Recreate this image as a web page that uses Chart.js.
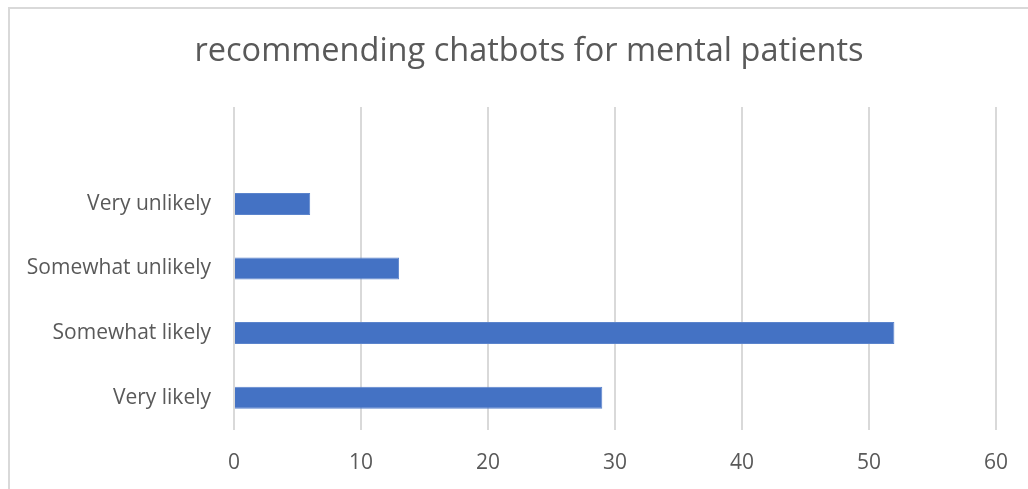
<!DOCTYPE html>
<html>
<head>
<meta charset="utf-8">
<script src="https://cdn.jsdelivr.net/npm/chart.js@4/dist/chart.umd.min.js"></script>
<style>
  html, body { margin: 0; padding: 0; background: #ffffff; }
  #wrap { position: relative; width: 1028px; height: 489px; }
</style>
</head>
<body>
<div id="wrap"><canvas id="chart" width="1028" height="489"></canvas></div>
<script>
// Survey answers, top to bottom (the first row is left blank)
const categories = ["", "Very unlikely", "Somewhat unlikely", "Somewhat likely", "Very likely"];
const responses = [null, 6, 13, 52, 29];
const xTicks = [0, 10, 20, 30, 40, 50, 60];
const titleText = "recommending chatbots for mental patients";

const FONT = "'Open Sans', Lato, sans-serif";
const TEXT = "#595959";

// white background, light frame and the heading
const framePlugin = {
  id: "frame",
  beforeDraw(chart) {
    const ctx = chart.ctx;
    ctx.save();
    ctx.fillStyle = "#ffffff";
    ctx.fillRect(0, 0, chart.width, chart.height);
    ctx.strokeStyle = "#d9d9d9";
    ctx.lineWidth = 2;
    ctx.strokeRect(9, 8, 1200, 700);
    ctx.fillStyle = TEXT;
    ctx.font = "32.5px " + FONT;
    ctx.textAlign = "center";
    ctx.textBaseline = "middle";
    ctx.fillText(titleText, 529, 52);
    ctx.restore();
  }
};

new Chart(document.getElementById("chart"), {
  type: "bar",
  data: {
    labels: categories,
    datasets: [{
      data: responses,
      backgroundColor: "#4472C4",
      borderColor: "#5b84cc",
      borderWidth: 1,
      categoryPercentage: 1,
      barPercentage: 0.34
    }]
  },
  options: {
    indexAxis: "y",
    responsive: false,
    animation: false,
    layout: { padding: { left: 0, right: 26, top: 107, bottom: 0 } },
    plugins: {
      legend: { display: false },
      tooltip: { enabled: false },
      title: { display: false }
    },
    scales: {
      x: {
        min: 0,
        max: 60,
        afterBuildTicks(scale) { scale.ticks = xTicks.map(v => ({ value: v })); },
        afterFit(scale) { scale.height = 59; },
        border: { display: false },
        grid: { color: "#d9d9d9", lineWidth: 2, drawTicks: false },
        ticks: { color: TEXT, font: { family: FONT, size: 21 }, padding: 20 }
      },
      y: {
        afterFit(scale) { scale.width = 234; },
        border: { display: false },
        grid: { display: false, drawTicks: false },
        ticks: { color: TEXT, font: { family: FONT, size: 21 }, padding: 23 }
      }
    }
  },
  plugins: [framePlugin]
});
</script>
</body>
</html>
